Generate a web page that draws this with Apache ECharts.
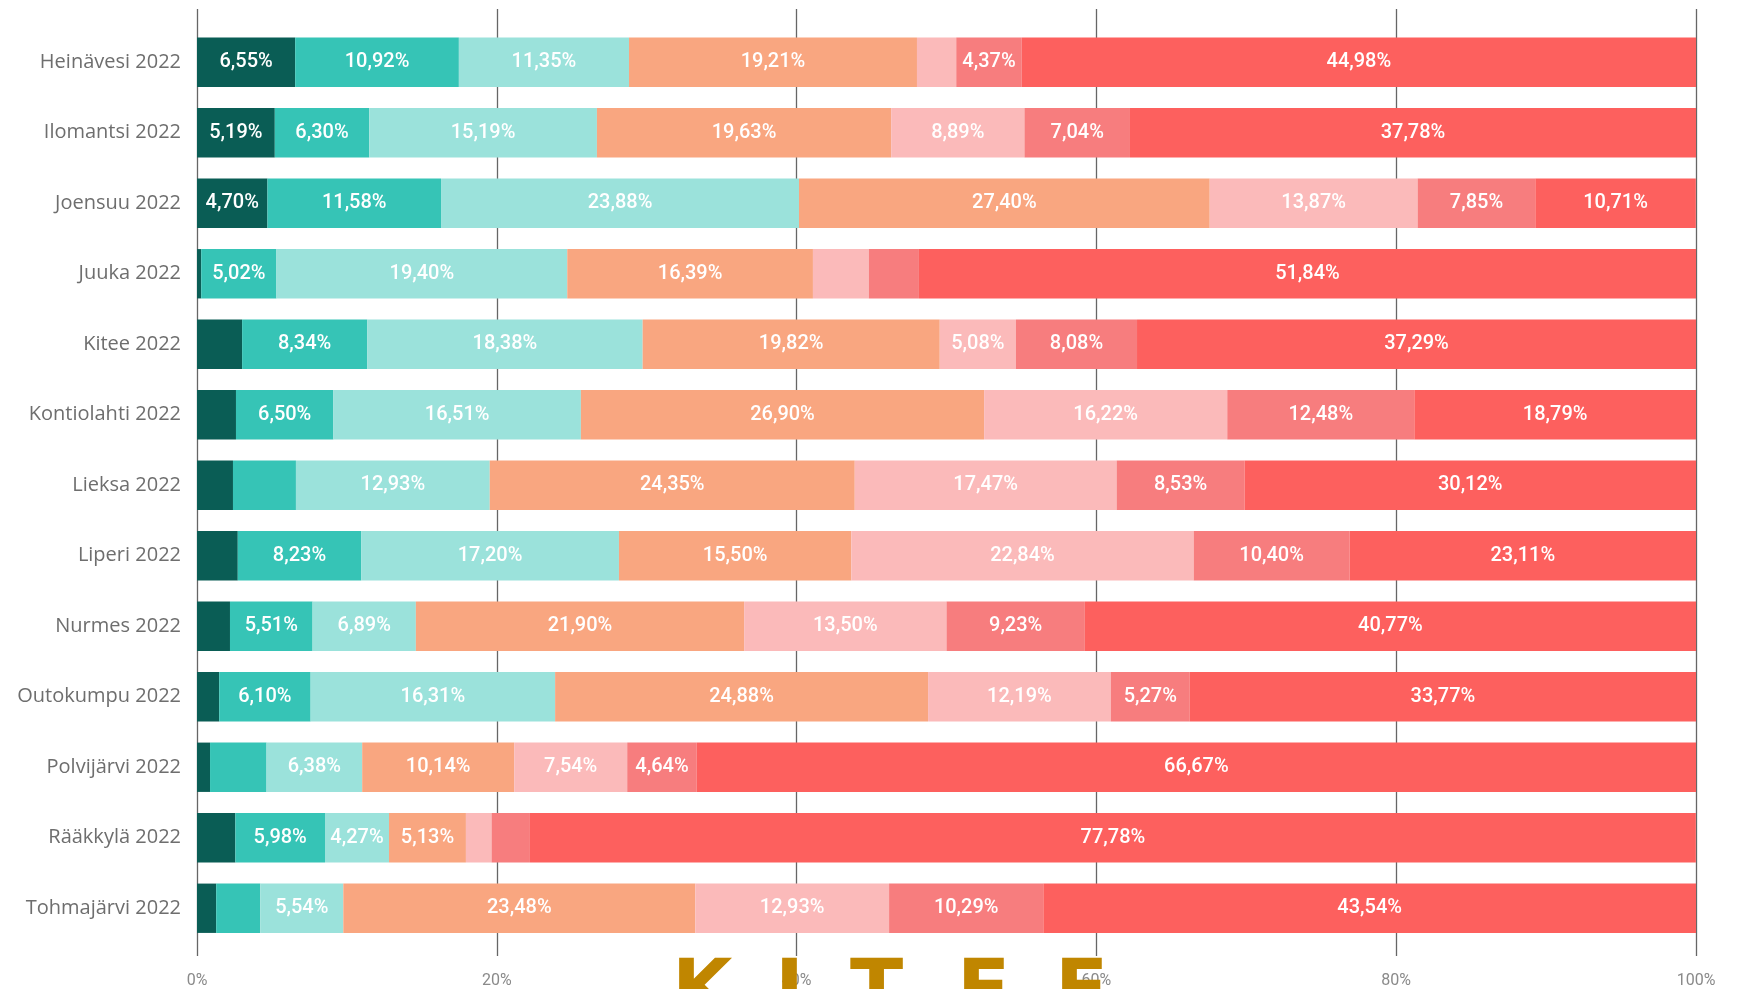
<!DOCTYPE html>
<html>
<head>
<meta charset="utf-8">
<script src="https://cdn.jsdelivr.net/npm/echarts@6/dist/echarts.min.js"></script>
<style>
html,body{margin:0;padding:0;background:#fff;}
#chart{width:1753px;height:989px;}
</style>
</head>
<body>
<div id="chart"></div>
<script>
const categories = ['Heinävesi 2022','Ilomantsi 2022','Joensuu 2022','Juuka 2022','Kitee 2022','Kontiolahti 2022','Lieksa 2022','Liperi 2022','Nurmes 2022','Outokumpu 2022','Polvijärvi 2022','Rääkkylä 2022','Tohmajärvi 2022'];
const seg1 = [6.55, 5.19, 4.70, 0.28, 3.01, 2.60, 2.40, 2.72, 2.20, 1.48, 0.87, 2.56, 1.28];
const seg2 = [10.92, 6.30, 11.58, 5.02, 8.34, 6.50, 4.20, 8.23, 5.51, 6.10, 3.77, 5.98, 2.94];
const seg3 = [11.35, 15.19, 23.88, 19.40, 18.38, 16.51, 12.93, 17.20, 6.89, 16.31, 6.38, 4.27, 5.54];
const seg4 = [19.21, 19.63, 27.40, 16.39, 19.82, 26.90, 24.35, 15.50, 21.90, 24.88, 10.14, 5.13, 23.48];
const seg5 = [2.62, 8.89, 13.87, 3.73, 5.08, 16.22, 17.47, 22.84, 13.50, 12.19, 7.54, 1.71, 12.93];
const seg6 = [4.37, 7.04, 7.85, 3.34, 8.08, 12.48, 8.53, 10.40, 9.23, 5.27, 4.64, 2.56, 10.29];
const seg7 = [44.98, 37.78, 10.71, 51.84, 37.29, 18.79, 30.12, 23.11, 40.77, 33.77, 66.67, 77.78, 43.54];
const segments = [seg1, seg2, seg3, seg4, seg5, seg6, seg7];
const colors = ['#0A5D55', '#36C4B6', '#9BE2DB', '#F9A680', '#FBBABA', '#F77D7E', '#FD605E'];
const xTicks = [0, 20, 40, 60, 80, 100];
const logoLetters = ['K', 'I', 'T', 'E', 'E'];

const chart = echarts.init(document.getElementById('chart'), null, {renderer: 'canvas'});

const plotLeft = 197, plotWidth = 1499;
const band = 70.5;

const series = segments.map((arr, i) => ({
  type: 'bar',
  name: 'Osuus ' + (i + 1),
  stack: 'total',
  xAxisIndex: 0,
  yAxisIndex: 0,
  barCategoryGap: '30%',
  itemStyle: {color: colors[i]},
  label: {
    show: true,
    position: 'inside',
    color: '#ffffff',
    fontFamily: 'Roboto',
    fontWeight: 500,
    fontSize: 20,
    formatter: p => p.value >= 4.25 ? p.value.toFixed(2).replace('.', ',') + '%' : ''
  },
  data: arr
}));

const logoX = [672, 775, 850, 957, 1055];
const graphics = logoLetters.map((ch, i) => ({
  type: 'text',
  left: logoX[i],
  top: 956,
  z: 100,
  style: {
    text: ch,
    fill: '#C08600',
    font: 'bold 78px "DejaVu Sans"'
  }
}));

chart.setOption({
  backgroundColor: '#ffffff',
  animation: false,
  grid: [
    {left: plotLeft, width: plotWidth, top: 27, height: band * categories.length},
    {left: plotLeft, width: plotWidth, top: 9, height: 947}
  ],
  xAxis: [
    {type: 'value', gridIndex: 0, min: 0, max: 100, show: false},
    {
      type: 'value', gridIndex: 1, min: xTicks[0], max: xTicks[xTicks.length - 1], interval: 20,
      axisLine: {show: false}, axisTick: {show: false},
      splitLine: {show: true, lineStyle: {color: '#666666', width: 1.3}},
      axisLabel: {
        formatter: '{value}%', color: '#8a8a8a', fontFamily: 'Roboto', fontSize: 16, margin: 17
      }
    }
  ],
  yAxis: [
    {
      type: 'category', gridIndex: 0, data: categories, inverse: true,
      axisLine: {show: false}, axisTick: {show: false}, splitLine: {show: false},
      axisLabel: {color: '#6e6e6e', fontFamily: 'Open Sans', fontSize: 20, margin: 16}
    },
    {type: 'value', gridIndex: 1, min: 0, max: 1, show: false}
  ],
  series: series,
  graphic: graphics
});
</script>
</body>
</html>
